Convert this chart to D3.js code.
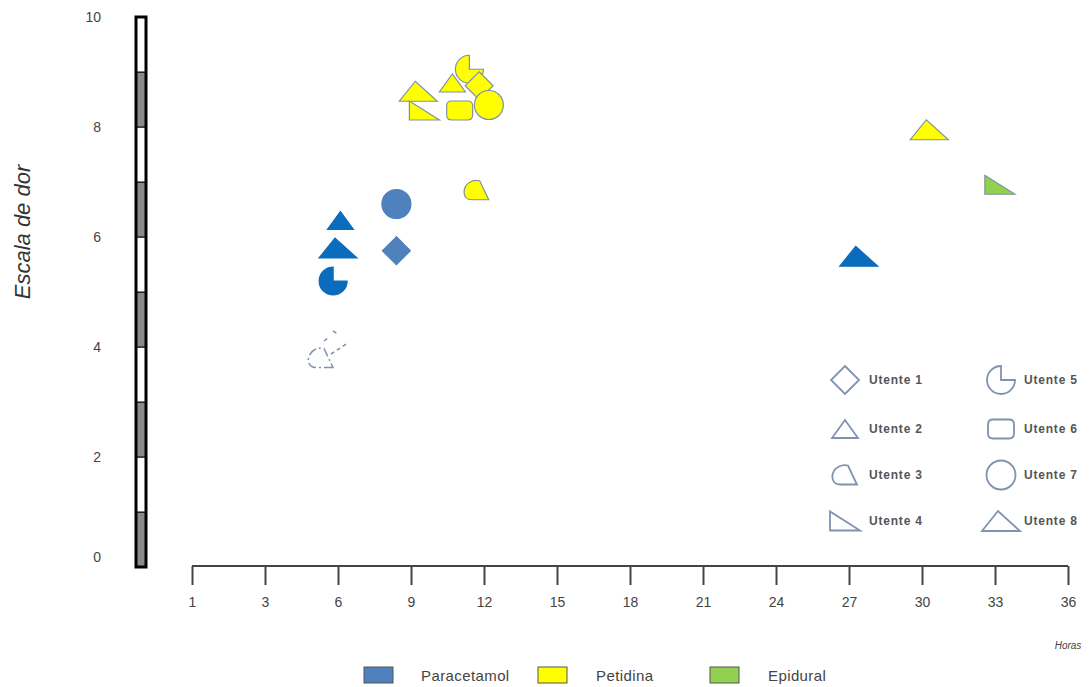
<!DOCTYPE html>
<html lang="pt">
<head>
<meta charset="UTF-8">
<title>Escala de dor</title>
<script src="https://d3js.org/d3.v7.min.js"></script>
<style>
  body { margin: 0; background: #fff; }
  text { font-family: Arial, "Liberation Sans", sans-serif; }
</style>
</head>
<body>
<svg id="chart" width="1092" height="687"></svg>
<script>
// data
const hourTicks = [0, 3, 6, 9, 12, 15, 18, 21, 24, 27, 30, 33, 36];
const hourLabels = ["1", "3", "6", "9", "12", "15", "18", "21", "24", "27", "30", "33", "36"];
const painTicks = [0, 2, 4, 6, 8, 10];
const treatments = ["Paracetamol", "Petidina", "Epidural"];
const utentes = ["Utente 1", "Utente 2", "Utente 3", "Utente 4", "Utente 5", "Utente 6", "Utente 7", "Utente 8"];

// one entry per marker: hours, pain score, utente (1-8), treatment index
const pointHours     = [6.1, 6.0, 5.8, 8.4, 8.4, 5.3, 27.4, 9.3, 9.55, 10.7, 11.4, 11.8, 11.0, 12.2, 11.7, 30.3, 33.2];
const pointPain      = [6.3, 5.8, 5.2, 6.6, 5.75, 3.8, 5.65, 8.65, 8.3, 8.8, 9.05, 8.75, 8.3, 8.4, 6.85, 7.95, 6.95];
const pointUtente    = [2, 8, 5, 7, 1, 3, 8, 8, 4, 2, 5, 1, 6, 7, 3, 8, 4];
const pointTreatment = [0, 0, 0, 0, 0, 0, 0, 1, 1, 1, 1, 1, 1, 1, 1, 1, 2];

const svg = d3.select("#chart");

const x = d3.scaleLinear().domain([0, 36]).range([192, 1068]);
const y = d3.scaleLinear().domain([0, 10]).range([567, 17]);

const treatColor = d3.scaleOrdinal().domain(treatments).range(["#4f81bd", "#ffff00", "#92d050"]);
const darkBlue = "#0b6cbd";

// marker shapes, centred on 0,0
function shapePath(u) {
  const p = d3.path();
  switch (u) {
    case 1: p.moveTo(0, -14); p.lineTo(14, 0); p.lineTo(0, 14); p.lineTo(-14, 0); p.closePath(); break;
    case 2: p.moveTo(-13, 9); p.lineTo(13, 9); p.lineTo(0, -9); p.closePath(); break;
    case 3:
      p.moveTo(12, 9.5); p.lineTo(-5, 9.5);
      p.bezierCurveTo(-15, 9.5, -15, -4, -6, -8.5);
      p.bezierCurveTo(-2, -10.5, 1, -10, 3, -9.5);
      p.closePath(); break;
    case 4: p.moveTo(-15, -9.5); p.lineTo(-15, 9.5); p.lineTo(15, 9.5); p.closePath(); break;
    case 5: p.moveTo(0, 0); p.lineTo(14, 0); p.arc(0, 0, 14, 0, -Math.PI / 2, false); p.closePath(); break;
    case 6: {
      const w = 13, h = 9.5, r = 5;
      p.moveTo(-w + r, -h); p.lineTo(w - r, -h); p.quadraticCurveTo(w, -h, w, -h + r);
      p.lineTo(w, h - r); p.quadraticCurveTo(w, h, w - r, h);
      p.lineTo(-w + r, h); p.quadraticCurveTo(-w, h, -w, h - r);
      p.lineTo(-w, -h + r); p.quadraticCurveTo(-w, -h, -w + r, -h); p.closePath(); break;
    }
    case 7: p.arc(0, 0, 14.5, 0, 2 * Math.PI); p.closePath(); break;
    case 8: p.moveTo(-19, 10); p.lineTo(19, 10); p.lineTo(-3, -10); p.closePath(); break;
  }
  return p.toString();
}

// y axis: segmented bar
const barX = 136, barW = 10;
const segs = d3.range(10);
svg.selectAll(".seg").data(segs).join("rect")
  .attr("x", barX).attr("width", barW)
  .attr("y", d => y(d + 1)).attr("height", d => y(d) - y(d + 1))
  .attr("fill", d => d % 2 === 0 ? "#8a8a8a" : "#ffffff")
  .attr("stroke", "#000").attr("stroke-width", 1);
svg.append("rect")
  .attr("x", barX).attr("y", y(10)).attr("width", barW).attr("height", y(0) - y(10))
  .attr("fill", "none").attr("stroke", "#000").attr("stroke-width", 3);

svg.selectAll(".ylab").data(painTicks).join("text")
  .attr("x", 101).attr("y", d => d === 0 ? y(d) - 5 : y(d) + 5)
  .attr("text-anchor", "end").attr("font-size", 14).attr("fill", "#444")
  .text(d => d);

svg.append("text")
  .attr("transform", "translate(30,232) rotate(-90)")
  .attr("text-anchor", "middle").attr("font-size", 22).attr("font-style", "italic").attr("fill", "#333")
  .text("Escala de dor");

// x axis
const xAxis = d3.axisBottom(x).tickValues(hourTicks).tickSize(19).tickPadding(12)
  .tickFormat((d, i) => hourLabels[i]);
const gx = svg.append("g").attr("transform", "translate(0,566)").call(xAxis);
gx.select(".domain").attr("stroke", "#444").attr("stroke-width", 2).attr("d", `M${x(0)},0H${x(36)}`);
gx.selectAll(".tick line").attr("stroke", "#444").attr("stroke-width", 2);
gx.selectAll(".tick text").attr("font-size", 14).attr("fill", "#444")
  .attr("font-family", "Arial, 'Liberation Sans', sans-serif");

svg.append("text")
  .attr("x", 1068).attr("y", 649).attr("text-anchor", "middle")
  .attr("font-size", 10).attr("font-style", "italic").attr("fill", "#444")
  .text("Horas");

// markers
const points = pointHours.map((h, i) => ({ h, v: pointPain[i], u: pointUtente[i], t: treatments[pointTreatment[i]] }));

function fillOf(d) {
  if (d.t === "Paracetamol" && [2, 5, 8].includes(d.u)) return darkBlue;
  return treatColor(d.t);
}

svg.selectAll(".pt").data(points).join("path")
  .attr("transform", d => `translate(${x(d.h)},${y(d.v)})`)
  .attr("d", d => shapePath(d.u))
  .attr("fill", d => (d.t === "Paracetamol" && d.u === 3) ? "none" : fillOf(d))
  .attr("stroke", d => d.t === "Paracetamol" ? (d.u === 3 ? "#7f93b0" : fillOf(d)) : "#7f93a0")
  .attr("stroke-width", d => (d.t === "Paracetamol" && d.u === 3) ? 1.5 : 1.2)
  .attr("stroke-dasharray", d => (d.t === "Paracetamol" && d.u === 3) ? "9,3,2,3" : null);

// faint dashed trail next to the Utente 3 paracetamol marker
points.filter(d => d.t === "Paracetamol" && d.u === 3).forEach(d => {
  svg.append("path")
    .attr("transform", `translate(${x(d.h)},${y(d.v)})`)
    .attr("d", "M10,-4L27,-15M3,-17L7,-20M12,-27L17,-24")
    .attr("stroke", "#7f93b0").attr("stroke-width", 1.5).attr("stroke-dasharray", "4,3").attr("fill", "none");
});

// utente legend (shape key)
const legX = [845, 1001], legTextX = [869, 1024], legY = [380, 429, 475, 521];
const lg = svg.append("g");
utentes.forEach((name, i) => {
  const col = Math.floor(i / 4), row = i % 4;
  lg.append("path")
    .attr("transform", `translate(${legX[col]},${legY[row]})`)
    .attr("d", shapePath(i + 1))
    .attr("fill", "none").attr("stroke", "#7f93b0").attr("stroke-width", 1.8);
  lg.append("text")
    .attr("x", legTextX[col]).attr("y", legY[row] + 4)
    .attr("font-size", 12).attr("font-weight", "bold").attr("letter-spacing", 0.8).attr("fill", "#555")
    .text(name);
});

// treatment legend
const boxX = [364, 538, 710], labelX = [421, 596, 768];
treatments.forEach((t, i) => {
  svg.append("rect")
    .attr("x", boxX[i]).attr("y", 667).attr("width", 29).attr("height", 16)
    .attr("fill", treatColor(t)).attr("stroke", "#555").attr("stroke-width", 1);
  svg.append("text")
    .attr("x", labelX[i]).attr("y", 681)
    .attr("font-size", 15).attr("letter-spacing", 0.4).attr("fill", "#444")
    .text(t);
});
</script>
</body>
</html>
